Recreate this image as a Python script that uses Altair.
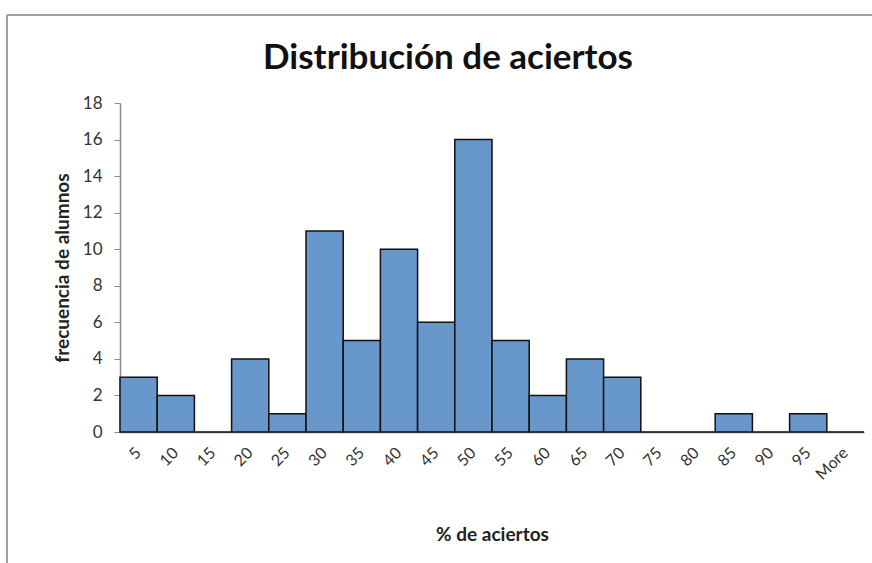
import altair as alt
import pandas as pd

# Histogram bins (upper edge of each % bin) and student counts
bins = ["5", "10", "15", "20", "25", "30", "35", "40", "45", "50",
        "55", "60", "65", "70", "75", "80", "85", "90", "95", "More"]
counts = [3, 2, 0, 4, 1, 11, 5, 10, 6, 16, 5, 2, 4, 3, 0, 0, 1, 0, 1, 0]

df = pd.DataFrame({"bin": bins, "count": counts})

FONT = "Lato"
W, H = 744, 329

bars = alt.Chart(df).mark_bar(
    color="#6797CB", stroke="#111111", strokeWidth=1.5
).encode(
    x=alt.X(
        "bin:N", sort=bins,
        scale=alt.Scale(paddingInner=0, paddingOuter=0),
        axis=alt.Axis(
            title="% de aciertos", titleFont=FONT, titleFontSize=19,
            titleFontWeight="bold", titleColor="#222222", titlePadding=43,
            labelAngle=-45, labelAlign="right", labelBaseline="middle",
            labelPadding=18, labelFont=FONT, labelFontSize=16,
            labelColor="#333333", ticks=False, domainColor="#8c8c8c",
            domainWidth=1.5,
        ),
    ),
    y=alt.Y(
        "count:Q",
        scale=alt.Scale(domain=[0, 18]),
        axis=alt.Axis(
            title="frecuencia de alumnos", titleFont=FONT, titleFontSize=19,
            titleFontWeight="bold", titleColor="#222222", titlePadding=10,
            values=list(range(0, 19, 2)), grid=False,
            labelFont=FONT, labelFontSize=17, labelColor="#333333",
            labelPadding=12, tickSize=6, tickColor="#8c8c8c",
            domainColor="#8c8c8c", domainWidth=1.5,
        ),
    ),
)

# Outer chart frame (left and top edges)
frame_left = alt.Chart(df).mark_rule(color="#a0a0a0", strokeWidth=2).encode(
    x=alt.value(-113), y=alt.value(-88), y2=alt.value(480)
)
frame_top = alt.Chart(df).mark_rule(color="#a0a0a0", strokeWidth=2).encode(
    x=alt.value(-113), x2=alt.value(760), y=alt.value(-88)
)

chart = alt.layer(bars, frame_left, frame_top).properties(
    width=W, height=H,
    title=alt.TitleParams(
        "Distribución de aciertos", font=FONT, fontSize=35,
        fontWeight="bold", color="#111111", dx=-44, offset=-62,
    ),
    autosize=alt.AutoSizeParams(type="none"),
    padding={"left": 120, "top": 103, "right": 8, "bottom": 131},
).configure_view(stroke=None)

chart.save("out.html", embed_options={"renderer": "svg", "actions": False})
